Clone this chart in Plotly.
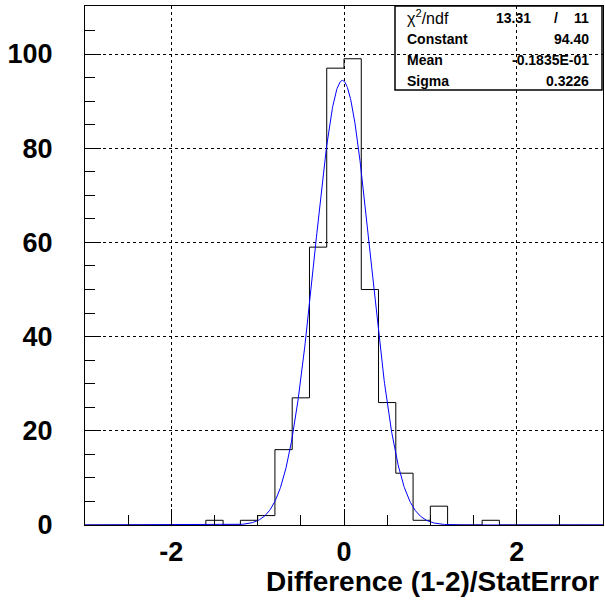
import numpy as np
import plotly.graph_objects as go

# ---- data ----
bin_edges_lo = -3.0
bin_width = 0.2
counts = [0, 0, 0, 0, 0, 0, 0, 1, 0, 1,
          2, 16, 27, 59, 97, 99, 50, 26, 11, 1,
          4, 0, 0, 1, 0, 0, 0, 0, 0, 0]
fit_constant = 94.40
fit_mean = -0.01835
fit_sigma = 0.3226
chi2 = "13.31"
ndf = "11"
x_tickvals = [-2, 0, 2]
y_tickvals = [0, 20, 40, 60, 80, 100]

# ---- derived ----
edges = [bin_edges_lo + bin_width * i for i in range(len(counts) + 1)]
step_x = edges
step_y = counts + [counts[-1]]

xf = np.linspace(-3, 3, 1201)
yf = fit_constant * np.exp(-0.5 * ((xf - fit_mean) / fit_sigma) ** 2)

FONT = "Liberation Sans, Arial, Helvetica, sans-serif"

fig = go.Figure()
fig.add_trace(go.Scatter(x=step_x, y=step_y, mode="lines", line_shape="hv",
                         line=dict(color="black", width=1), hoverinfo="skip",
                         showlegend=False))
fig.add_trace(go.Scatter(x=xf, y=yf, mode="lines",
                         line=dict(color="#0000ff", width=1), showlegend=False))

W, H = 605, 615
L, R, T, B = 85, 2, 6, 90
pw = W - L - R
ph = H - T - B

def px(xp):
    return (xp - L) / pw

def py(yp):
    return (H - B - yp) / ph

fig.update_layout(
    width=W, height=H,
    margin=dict(l=L, r=R, t=T, b=B),
    paper_bgcolor="white", plot_bgcolor="white",
    xaxis=dict(range=[-3, 3], tickvals=x_tickvals, ticktext=[str(v) for v in x_tickvals],
               ticks="inside", ticklen=16, tickcolor="black", tickwidth=1,
               minor=dict(dtick=0.5, tick0=0, ticks="inside", ticklen=10, tickcolor="black", showgrid=False),
               showgrid=True, gridcolor="black", griddash="3px,3px", gridwidth=1,
               showline=True, linecolor="black", linewidth=1, mirror=True,
               zeroline=False, ticklabelstandoff=3,
               tickfont=dict(family=FONT, size=27, color="black", weight="bold")),
    yaxis=dict(range=[0, 110.2], tickvals=y_tickvals, ticktext=[str(v) for v in y_tickvals],
               ticks="inside", ticklen=16, tickcolor="black", tickwidth=1,
               minor=dict(dtick=5, tick0=0, ticks="inside", ticklen=10, tickcolor="black", showgrid=False),
               showgrid=True, gridcolor="black", griddash="3px,3px", gridwidth=1,
               showline=True, linecolor="black", linewidth=1, mirror=True,
               zeroline=False, ticklabelstandoff=26,
               tickfont=dict(family=FONT, size=27, color="black", weight="bold")),
)

# stats box
fig.add_shape(type="rect", xref="paper", yref="paper",
              x0=px(395), x1=px(602), y0=py(90), y1=py(6),
              line=dict(color="black", width=1.5), fillcolor="rgba(0,0,0,0)")

def ann(text, xp, yp, anchor, bold=True, size=14):
    fig.add_annotation(text=text, xref="paper", yref="paper", x=px(xp), y=py(yp),
                       xanchor=anchor, yanchor="middle", showarrow=False,
                       font=dict(family=FONT, size=size, color="black",
                                 weight="bold" if bold else "normal"))

ann("χ<sup>2</sup>/ndf", 405, 17, "left", bold=False, size=16)
ann(chi2, 533, 18, "right")
ann("/", 556, 18, "center")
ann(ndf, 591, 18, "right")
ann("Constant", 405, 39, "left")
ann(f"{fit_constant:.2f}", 591, 39, "right")
ann("Mean", 405, 60, "left")
ann("-0.1835E-01", 591, 60, "right")
ann("Sigma", 405, 81, "left")
ann(f"{fit_sigma:.4f}", 591, 81, "right")

# x axis title
fig.add_annotation(text="Difference (1-2)/StatError", xref="paper", yref="paper",
                   x=px(601), y=py(582), xanchor="right", yanchor="middle", showarrow=False,
                   font=dict(family=FONT, size=28, color="black", weight="bold"))

fig.write_html("out.html", config={"displayModeBar": False},
               post_script="document.body.style.margin='0';")
